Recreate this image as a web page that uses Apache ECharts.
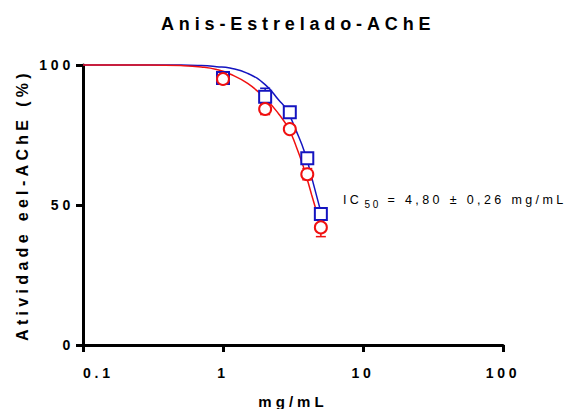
<!DOCTYPE html>
<html>
<head>
<meta charset="utf-8">
<script src="https://cdn.jsdelivr.net/npm/echarts@6/dist/echarts.min.js"></script>
<style>
    html, body { margin: 0; padding: 0; background: #fff; }
    #grafica { width: 573px; height: 409px; }
    /* el original usa letras espaciadas */
    #grafica text { letter-spacing: 0.27em; }
</style>
</head>
<body>
<div id="grafica"></div>
<script>
// concentraciones (mg/mL)
let dosis = [1, 2, 3, 4, 5];
// actividad (%) - cuadros azules
let actividadAzul = [95.4, 88.7, 83.1, 66.7, 46.8];
let errorAzul = [1, 3, 0.5, 1, 1];
// actividad (%) - circulos rojos
let actividadRojo = [95.0, 84.3, 77.1, 61.0, 42.0];
let errorRojo = [1, 2, 0.5, 2, 3.3];

// curvas ajustadas
let curvaAzulX = [0.1, 0.3, 0.5, 0.7, 0.9, 1.12, 1.5, 2, 2.5, 2.85, 3.3, 3.85, 4.4, 5.07];
let curvaAzulY = [100, 100, 100, 99.8, 99.4, 98.9, 97.0, 93.0, 87.5, 84.0, 77.0, 68.5, 58.0, 46.4];
let curvaRojoX = [0.1, 0.3, 0.5, 0.7, 0.9, 1.12, 1.5, 2, 2.5, 2.93, 3.3, 3.75, 4.3, 4.93];
let curvaRojoY = [100, 100, 99.8, 99.3, 98.4, 96.8, 93.4, 88.1, 82.5, 77.4, 71.5, 63.7, 53.6, 43.5];

// etiquetas de los ejes
let ticksX = [0.1, 1, 10, 100];
let etiquetasX = ['0.1', '1', '10', '100'];
let ticksY = [0, 50, 100];

let fuente = 'Liberation Sans, Arial, sans-serif';
let azul = '#1414c0';
let rojo = '#f01010';

function pares(xs, ys) {
    return xs.map((x, i) => [x, ys[i]]);
}

function barrasError(color, ys, errs) {
    return {
        type: 'custom',
        z: 3,
        data: dosis.map((d, i) => [d, ys[i] - errs[i], ys[i] + errs[i]]),
        renderItem: function (params, api) {
            let abajo = api.coord([api.value(0), api.value(1)]);
            let arriba = api.coord([api.value(0), api.value(2)]);
            let w = 5;
            let estilo = { stroke: color, lineWidth: 1.5 };
            return {
                type: 'group',
                children: [
                    { type: 'line', shape: { x1: abajo[0], y1: abajo[1], x2: arriba[0], y2: arriba[1] }, style: estilo },
                    { type: 'line', shape: { x1: abajo[0] - w, y1: abajo[1], x2: abajo[0] + w, y2: abajo[1] }, style: estilo },
                    { type: 'line', shape: { x1: arriba[0] - w, y1: arriba[1], x2: arriba[0] + w, y2: arriba[1] }, style: estilo }
                ]
            };
        }
    };
}

let chartDom = document.getElementById('grafica');
let myChart = echarts.init(chartDom, null, { renderer: 'svg' });
let option = {
    animation: false,
    backgroundColor: '#fff',
    title: {
        text: 'Anis-Estrelado-AChE',
        left: 156,
        top: 10,
        textStyle: { fontFamily: fuente, fontSize: 18, fontWeight: 'bold', color: '#000' }
    },
    grid: { left: 83, right: 70, top: 65, bottom: 64, outerBoundsMode: 'none' },
    xAxis: {
        type: 'log',
        logBase: 10,
        min: 0.1,
        max: 100,
        name: 'mg/mL',
        nameLocation: 'middle',
        nameGap: 49,
        nameTextStyle: { fontFamily: fuente, fontSize: 15, fontWeight: 'bold', color: '#000' },
        axisLine: { onZero: false, lineStyle: { color: '#000', width: 3 } },
        axisTick: { length: 7, lineStyle: { color: '#000', width: 3 } },
        minorTick: { show: false },
        splitLine: { show: false },
        axisLabel: {
            margin: 21,
            alignMinLabel: 'left',
            fontFamily: fuente, fontSize: 14, fontWeight: 'bold', color: '#000',
            formatter: function (v) {
                let i = ticksX.findIndex(t => Math.abs(Math.log10(t) - Math.log10(v)) < 1e-6);
                return i >= 0 ? etiquetasX[i] : '';
            }
        }
    },
    yAxis: {
        type: 'value',
        min: ticksY[0],
        max: ticksY[ticksY.length - 1],
        interval: 50,
        name: 'Atividade eel-AChE (%)',
        nameLocation: 'middle',
        nameGap: 53,
        nameTextStyle: { fontFamily: fuente, fontSize: 16, fontWeight: 'bold', color: '#000' },
        axisLine: { show: true, lineStyle: { color: '#000', width: 3 } },
        axisTick: { show: true, length: 7, lineStyle: { color: '#000', width: 3 } },
        splitLine: { show: false },
        axisLabel: { margin: 9, fontFamily: fuente, fontSize: 14, fontWeight: 'bold', color: '#000' }
    },
    graphic: [
        {
            type: 'text',
            left: 343,
            top: 193,
            style: {
                text: '{n|IC}{s|50}{n| = 4,80 ± 0,26 mg/mL}',
                fill: '#000',
                rich: {
                    n: { fontFamily: fuente, fontSize: 12.5, lineHeight: 14, verticalAlign: 'top' },
                    s: { fontFamily: fuente, fontSize: 10, lineHeight: 12, verticalAlign: 'top', padding: [6, 5, 0, 9] }
                }
            }
        }
    ],
    series: [
        {
            name: 'curva azul',
            type: 'line',
            smooth: true,
            showSymbol: false,
            clip: false,
            z: 2,
            lineStyle: { color: azul, width: 1.5 },
            data: pares(curvaAzulX, curvaAzulY)
        },
        {
            name: 'curva roja',
            type: 'line',
            smooth: true,
            showSymbol: false,
            clip: false,
            z: 2,
            lineStyle: { color: rojo, width: 1.5 },
            data: pares(curvaRojoX, curvaRojoY)
        },
        barrasError(azul, actividadAzul, errorAzul),
        barrasError(rojo, actividadRojo, errorRojo),
        {
            name: 'azul',
            type: 'scatter',
            symbol: 'rect',
            symbolSize: 12,
            z: 4,
            itemStyle: { color: '#fff', borderColor: azul, borderWidth: 2, opacity: 1 },
            data: pares(dosis, actividadAzul)
        },
        {
            name: 'rojo',
            type: 'scatter',
            symbol: 'circle',
            symbolSize: 12,
            z: 5,
            itemStyle: { color: '#fff', borderColor: rojo, borderWidth: 2, opacity: 1 },
            data: pares(dosis, actividadRojo)
        }
    ]
};
option && myChart.setOption(option);
</script>
</body>
</html>
